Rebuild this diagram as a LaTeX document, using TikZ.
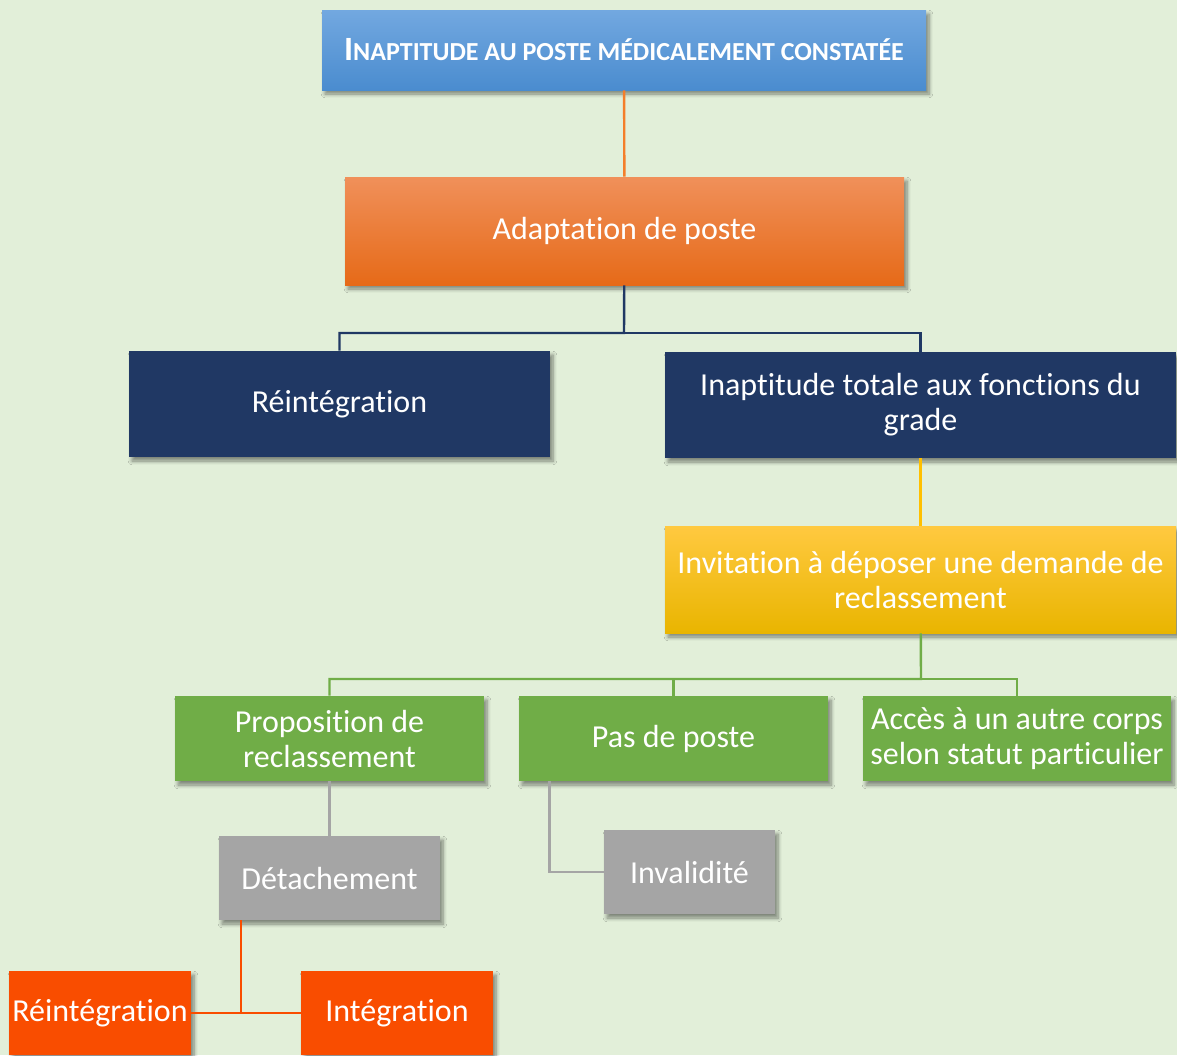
\documentclass[tikz,border=0pt]{standalone}
\usepackage{fontspec}
\setmainfont{Carlito}[Ligatures={NoCommon}]
\usepackage{xcolor}
\usetikzlibrary{shadows.blur}

\definecolor{fond}{HTML}{E2EFD9}
\definecolor{bleuhaut}{HTML}{72A8E0}
\definecolor{bleubas}{HTML}{4A8CCF}
\definecolor{orhaut}{HTML}{F0905A}
\definecolor{ormil}{HTML}{F47E2A}
\definecolor{orbas}{HTML}{E66A18}
\definecolor{marine}{HTML}{203864}
\definecolor{jaunehaut}{HTML}{FFC940}
\definecolor{jaunemil}{HTML}{FFC000}
\definecolor{jaunebas}{HTML}{E9B500}
\definecolor{vert}{HTML}{70AD47}
\definecolor{gris}{HTML}{A5A5A5}
\definecolor{rouge}{HTML}{F94D00}

\begin{document}
\begin{tikzpicture}[x=0.5pt,y=-0.5pt,
    boite/.style={inner sep=0pt,text=white,align=center,
      font=\fontsize{16}{17.5}\selectfont,
      blur shadow={shadow xshift=1.5pt,shadow yshift=-2pt,shadow blur steps=6,shadow opacity=45}},
    lien/.style={line width=1.2pt}]
    \fill[fond] (0,0) rectangle (1177,1055);
    \useasboundingbox (0,0) rectangle (1177,1055);
    % niveau 1 et 2
    \node[boite,top color=bleuhaut,bottom color=bleubas,minimum width=302pt,minimum height=40pt] (titre) at (624,50)
      {\bfseries{\fontsize{17}{20}\selectfont I}\fontsize{13}{16}\selectfont NAPTITUDE AU POSTE MÉDICALEMENT CONSTATÉE};
    \node[boite,top color=orhaut,middle color=ormil,bottom color=orbas,minimum width=279.5pt,minimum height=54pt] (adapt) at (624.5,231) {Adaptation de poste};
    % niveau 3
    \node[boite,fill=marine,minimum width=210.5pt,minimum height=53pt] (reint) at (339.5,404) {Réintégration};
    \node[boite,fill=marine,minimum width=255.5pt,minimum height=53pt] (inapt) at (920.5,405) {Inaptitude totale aux fonctions du\\grade};
    \node[boite,top color=jaunehaut,middle color=jaunemil,bottom color=jaunebas,minimum width=255.5pt,minimum height=53.5pt] (invit) at (920.5,579.5) {Invitation à déposer une demande de\\reclassement};
    % niveau 4
    \node[boite,fill=vert,minimum width=154.5pt,minimum height=42.5pt] (prop) at (329.5,738.5) {Proposition de\\reclassement};
    \node[boite,fill=vert,minimum width=154.5pt,minimum height=42.5pt] (pas) at (673.5,738.5) {Pas de poste};
    \node[boite,fill=vert,minimum width=154pt,minimum height=42.5pt] (acces) at (1017,738.5) {Accès à un autre corps\\selon statut particulier};
    % niveau 5
    \node[boite,fill=gris,minimum width=110.5pt,minimum height=42pt] (detach) at (329.5,878) {Détachement};
    \node[boite,fill=gris,minimum width=85.5pt,minimum height=42pt] (inval) at (689.5,872) {Invalidité};
    \node[boite,fill=rouge,minimum width=91pt,minimum height=42pt] (reint2) at (100,1013) {Réintégration};
    \node[boite,fill=rouge,minimum width=96pt,minimum height=42pt] (integ) at (397,1013) {Intégration};
    % liens
    \coordinate (j1) at (624,333);
    \coordinate (j2) at (921,679);
    \coordinate (j3) at (241,1013);
    \draw[lien,ormil] (titre) -- (adapt);
    \draw[lien,marine] (adapt) -- (j1) -| (reint);
    \draw[lien,marine] (j1) -| (inapt);
    \draw[lien,jaunemil] (inapt) -- (invit);
    \draw[lien,vert] (invit) -- (j2) -| (prop);
    \draw[lien,vert] (j2) -| (pas);
    \draw[lien,vert] (j2) -| (acces);
    \draw[lien,gris] (prop) -- (detach);
    \draw[lien,gris] ([xshift=15.5pt]pas.south west) |- (inval);
    \draw[lien,rouge] (reint2) -- (integ);
    \draw[lien,rouge] (detach.south -| j3) -- (j3);
\end{tikzpicture}
\end{document}
